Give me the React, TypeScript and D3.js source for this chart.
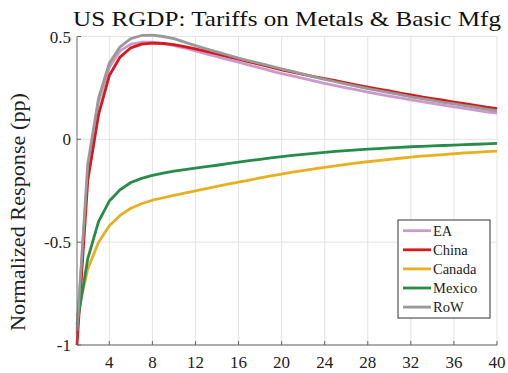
import React from "react";
import * as d3 from "d3";

const quarters: number[] = Array.from({ length: 40 }, (_, i) => i + 1);

const seriesNames = ["EA", "China", "Canada", "Mexico", "RoW"];
const seriesColors = ["#cc99cc", "#d7191c", "#e8b020", "#268c48", "#999999"];

const ea = [-0.95, -0.14, 0.18, 0.35, 0.43, 0.463, 0.472, 0.472, 0.466, 0.456, 0.444, 0.43, 0.416, 0.402, 0.388, 0.375, 0.361, 0.347, 0.333, 0.32, 0.308, 0.296, 0.284, 0.272, 0.261, 0.25, 0.24, 0.23, 0.22, 0.21, 0.201, 0.192, 0.183, 0.175, 0.166, 0.158, 0.15, 0.142, 0.134, 0.127];
const china = [-1.0, -0.2, 0.12, 0.31, 0.4, 0.445, 0.463, 0.468, 0.466, 0.46, 0.451, 0.44, 0.428, 0.415, 0.402, 0.39, 0.377, 0.364, 0.351, 0.338, 0.327, 0.316, 0.305, 0.295, 0.285, 0.274, 0.264, 0.254, 0.244, 0.235, 0.225, 0.216, 0.207, 0.198, 0.19, 0.181, 0.173, 0.165, 0.157, 0.149];
const canada = [-0.86, -0.63, -0.5, -0.42, -0.37, -0.335, -0.313, -0.296, -0.284, -0.273, -0.262, -0.251, -0.24, -0.229, -0.218, -0.208, -0.198, -0.188, -0.178, -0.169, -0.16, -0.152, -0.144, -0.136, -0.129, -0.122, -0.115, -0.109, -0.103, -0.097, -0.092, -0.087, -0.082, -0.078, -0.074, -0.07, -0.066, -0.063, -0.06, -0.057];
const mexico = [-0.9, -0.58, -0.4, -0.3, -0.245, -0.21, -0.19, -0.175, -0.164, -0.155, -0.147, -0.14, -0.133, -0.126, -0.118, -0.111, -0.104, -0.097, -0.09, -0.084, -0.078, -0.073, -0.068, -0.063, -0.059, -0.055, -0.051, -0.048, -0.045, -0.042, -0.039, -0.036, -0.034, -0.032, -0.03, -0.028, -0.026, -0.024, -0.022, -0.02];
const row = [-0.93, -0.12, 0.2, 0.37, 0.45, 0.49, 0.505, 0.507, 0.5, 0.49, 0.473, 0.456, 0.44, 0.425, 0.41, 0.395, 0.382, 0.369, 0.356, 0.343, 0.33, 0.317, 0.304, 0.292, 0.28, 0.269, 0.258, 0.247, 0.237, 0.227, 0.217, 0.207, 0.198, 0.189, 0.18, 0.172, 0.164, 0.156, 0.147, 0.139];

const xTicks = [4, 8, 12, 16, 20, 24, 28, 32, 36, 40];
const yTicks = [-1, -0.5, 0, 0.5];
const yTickLabels = ["-1", "-0.5", "0", "0.5"];

const title = "US RGDP: Tariffs on Metals & Basic Mfg";
const yLabel = "Normalized Response (pp)";

const W = 508;
const H = 373;
const FONT = "'Liberation Serif', 'DejaVu Serif', serif";

export default function App() {
  const x = d3.scaleLinear().domain([1, 40]).range([77, 497]);
  const y = d3.scaleLinear().domain([-1, 0.5]).range([345, 36.5]);
  const seriesData = [ea, china, canada, mexico, row];
  const line = d3
    .line<number>()
    .x((_, i) => x(quarters[i]))
    .y((d) => y(d));
  const [x0, x1] = x.range();
  const [yb, yt] = y.range();
  const legendX = 398;
  const legendY = 220;
  return (
    <svg
      width={W}
      height={H}
      style={{ position: "absolute", left: 0, top: 0, background: "#fff" }}
      fontFamily={FONT}
    >
      <rect x={0} y={0} width={W} height={H} fill="#fff" />
      {xTicks.map((t) => (
        <line key={"gx" + t} x1={x(t)} x2={x(t)} y1={yb} y2={yt} stroke="#e3e3e3" strokeWidth={1} />
      ))}
      {yTicks.map((t) => (
        <line key={"gy" + t} x1={x0} x2={x1} y1={y(t)} y2={y(t)} stroke="#e3e3e3" strokeWidth={1} />
      ))}
      {seriesData.map((s, i) => (
        <path
          key={seriesNames[i]}
          d={line(s) || ""}
          fill="none"
          stroke={seriesColors[i]}
          strokeWidth={2.8}
          strokeLinejoin="round"
        />
      ))}
      <line x1={x0} x2={x0} y1={yb} y2={yt} stroke="#666" strokeWidth={1} />
      <line x1={x0} x2={x1} y1={yb} y2={yb} stroke="#666" strokeWidth={1} />
      {xTicks.map((t) => (
        <g key={"tx" + t}>
          <line x1={x(t)} x2={x(t)} y1={yb} y2={yb - 4} stroke="#666" strokeWidth={1} />
          <text x={x(t)} y={368} textAnchor="middle" fontSize={17} fill="#222">
            {t}
          </text>
        </g>
      ))}
      {yTicks.map((t, i) => (
        <g key={"ty" + t}>
          <line x1={x0} x2={x0 + 4} y1={y(t)} y2={y(t)} stroke="#666" strokeWidth={1} />
          <text x={71} y={y(t) + 6} textAnchor="end" fontSize={17} fill="#222">
            {yTickLabels[i]}
          </text>
        </g>
      ))}
      <text
        x={287}
        y={26}
        textAnchor="middle"
        fontSize={21}
        fill="#111"
        textLength={428}
        lengthAdjust="spacingAndGlyphs"
      >
        {title}
      </text>
      <text
        transform={`translate(25,${212}) rotate(-90)`}
        textAnchor="middle"
        fontSize={20}
        fill="#222"
        textLength={238}
        lengthAdjust="spacingAndGlyphs"
      >
        {yLabel}
      </text>
      <rect x={legendX} y={legendY} width={92} height={98} fill="#fff" stroke="#333" strokeWidth={1} />
      {seriesNames.map((n, i) => {
        const ly = 230.7 + i * 19.1;
        return (
          <g key={"lg" + n}>
            <line x1={403} x2={431} y1={ly} y2={ly} stroke={seriesColors[i]} strokeWidth={2.8} />
            <text x={433} y={ly + 5} fontSize={14.5} fill="#222">
              {n}
            </text>
          </g>
        );
      })}
    </svg>
  );
}
